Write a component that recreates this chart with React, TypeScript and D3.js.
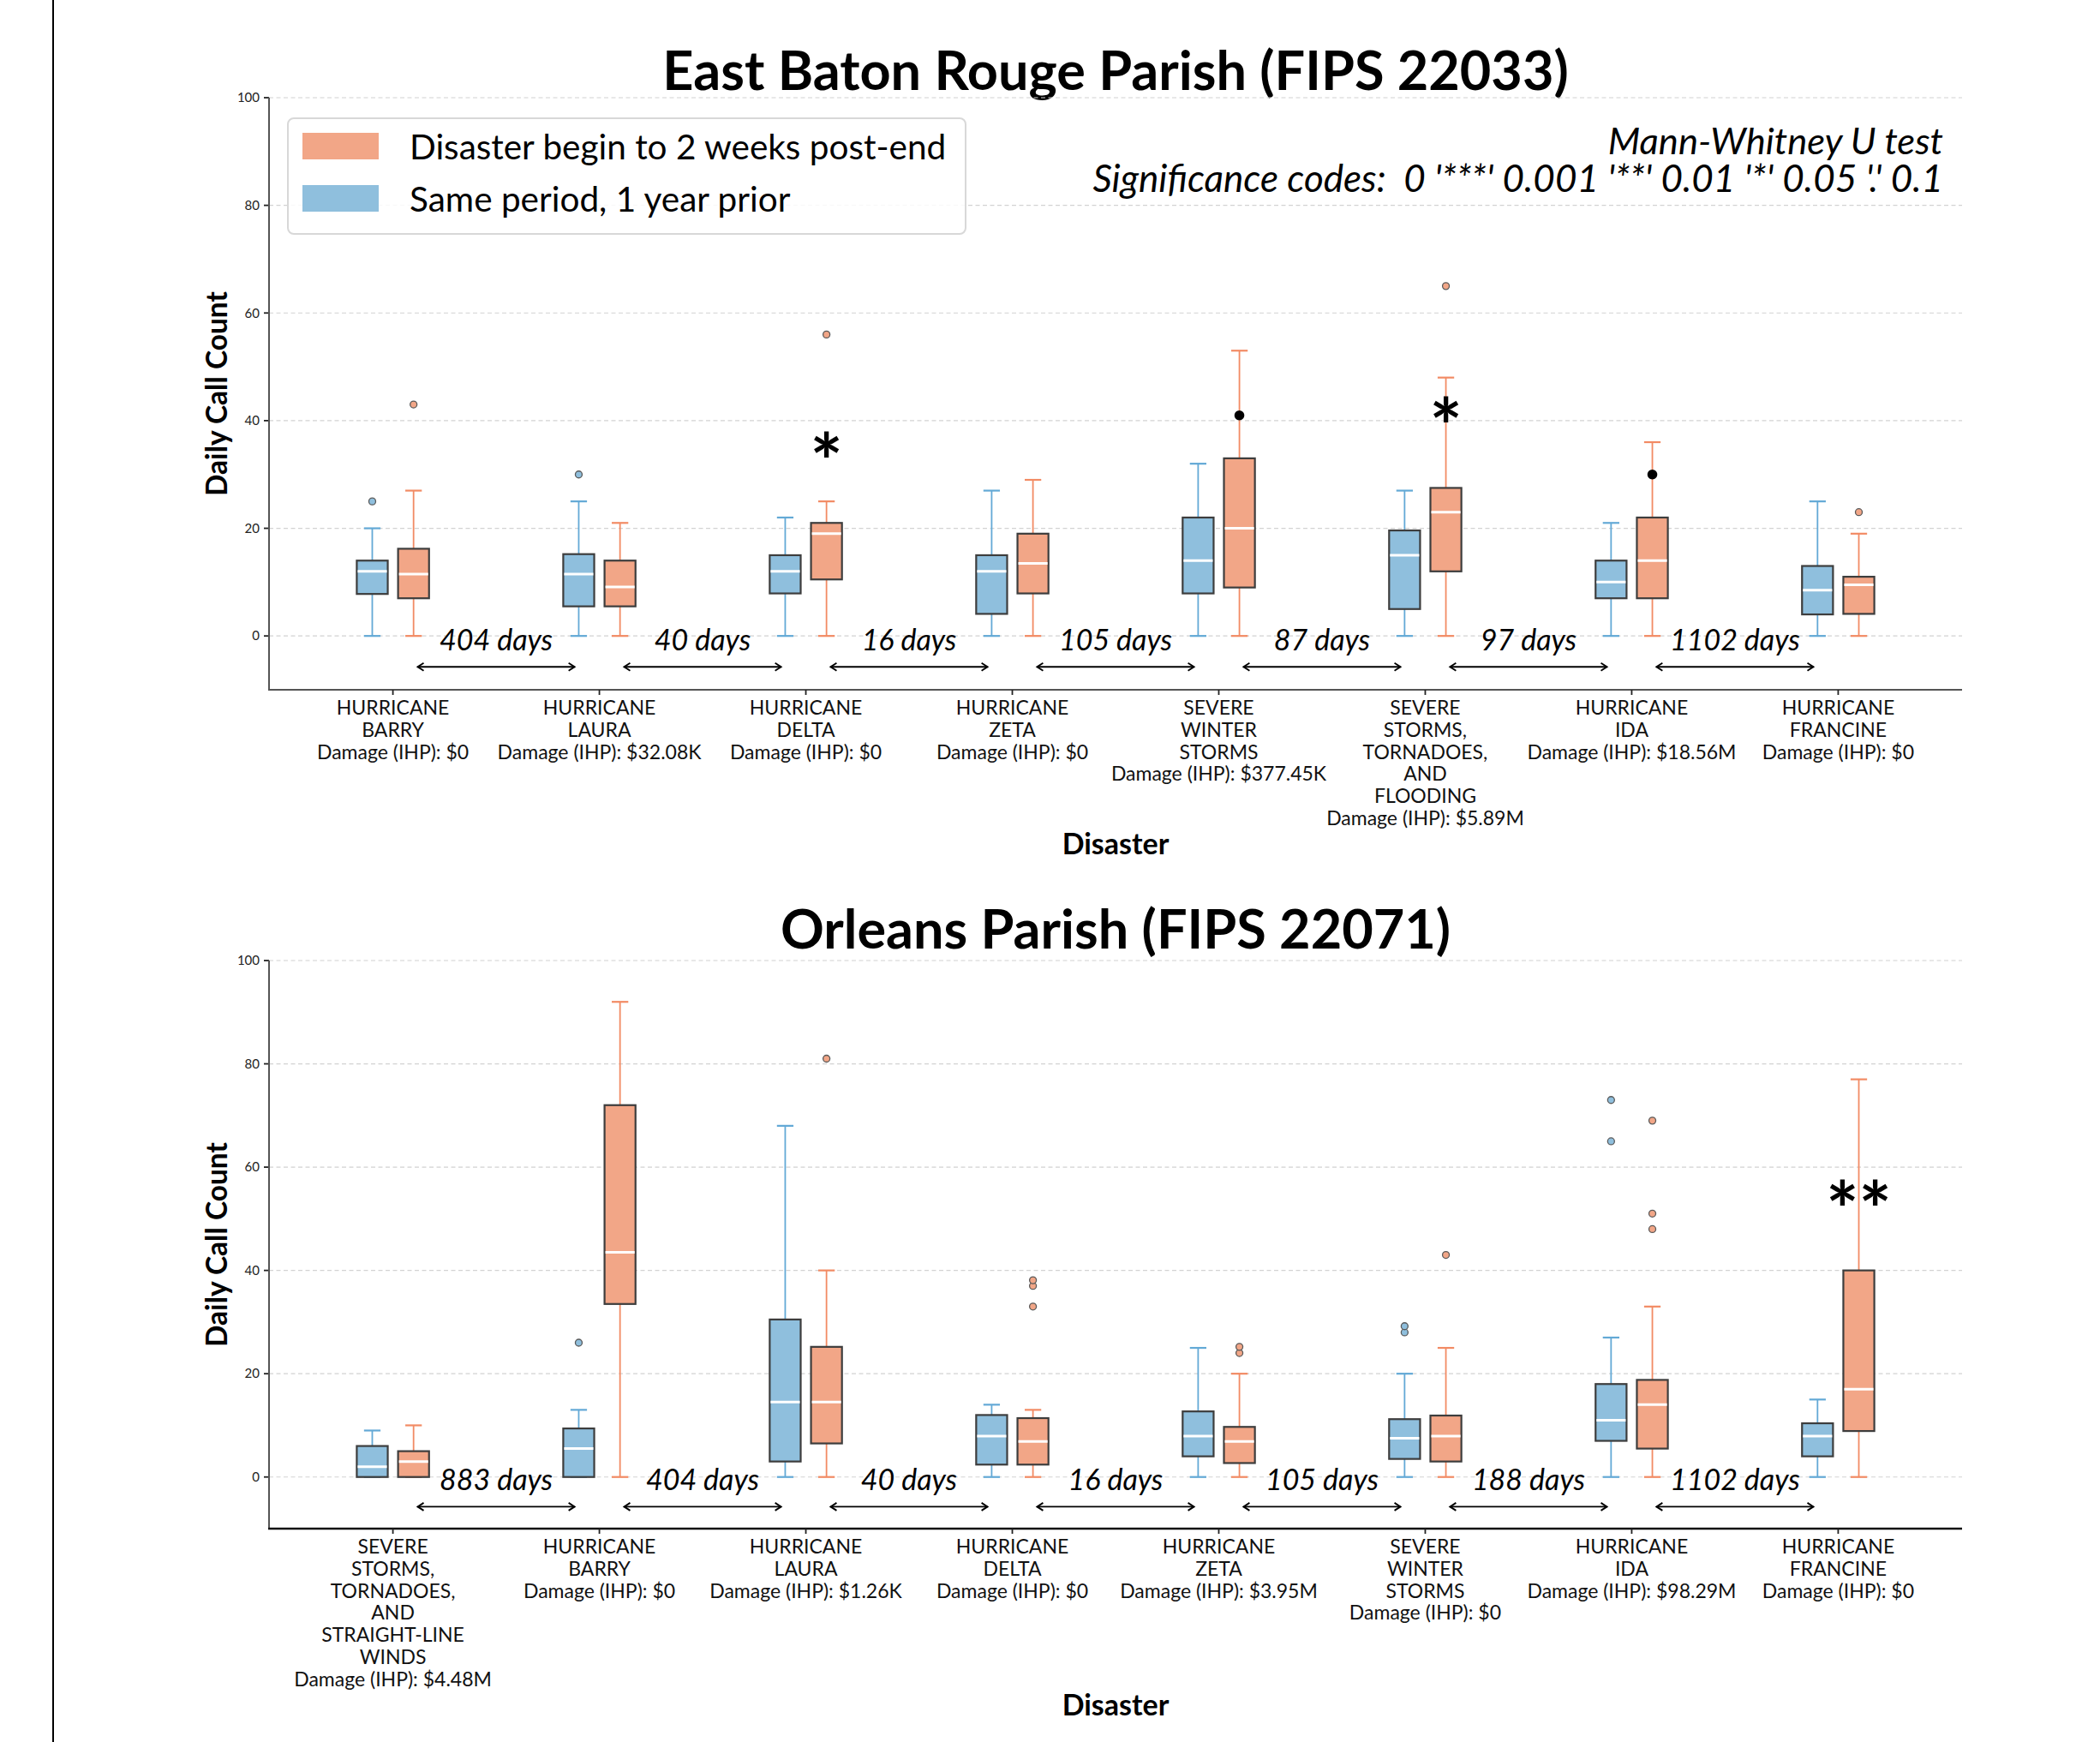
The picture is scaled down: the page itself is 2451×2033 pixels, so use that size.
import React from "react";
import * as d3 from "d3";

const W = 2451;
const H = 2033;
const FONT = "Lato, 'Open Sans', sans-serif";

const BLUE = "#8fbfdd";
const BLUE_LINE = "#63a9d6";
const ORANGE = "#f2a687";
const ORANGE_LINE = "#f28b64";

// ---- East Baton Rouge Parish ----
const ebrCategories = [
  ["HURRICANE", "BARRY", "Damage (IHP): $0"],
  ["HURRICANE", "LAURA", "Damage (IHP): $32.08K"],
  ["HURRICANE", "DELTA", "Damage (IHP): $0"],
  ["HURRICANE", "ZETA", "Damage (IHP): $0"],
  ["SEVERE", "WINTER", "STORMS", "Damage (IHP): $377.45K"],
  ["SEVERE", "STORMS,", "TORNADOES,", "AND", "FLOODING", "Damage (IHP): $5.89M"],
  ["HURRICANE", "IDA", "Damage (IHP): $18.56M"],
  ["HURRICANE", "FRANCINE", "Damage (IHP): $0"],
];
// [low whisker, q1, median, q3, high whisker]
const ebrPrior = [
  [0, 7.8, 12, 14, 20],
  [0, 5.5, 11.5, 15.2, 25],
  [0, 7.9, 12, 15, 22],
  [0, 4.1, 12, 15, 27],
  [0, 7.9, 14, 22, 32],
  [0, 5, 15, 19.6, 27],
  [0, 7, 10, 14, 21],
  [0, 4, 8.5, 13, 25],
];
const ebrPriorOutliers = [[25], [30], [], [], [], [], [], []];
const ebrDisaster = [
  [0, 7, 11.5, 16.2, 27],
  [0, 5.5, 9.1, 14, 21],
  [0, 10.5, 19, 21, 25],
  [0, 7.9, 13.5, 19, 29],
  [0, 9, 20, 33, 53],
  [0, 12, 23, 27.5, 48],
  [0, 7, 14, 22, 36],
  [0, 4.1, 9.5, 11, 19],
];
const ebrDisasterOutliers = [[43], [], [56], [], [], [65], [], [23]];
const ebrGapDays = [404, 40, 16, 105, 87, 97, 1102];
const ebrSignif = [
  { cat: 2, code: "*", y: 35 },
  { cat: 4, code: ".", y: 41 },
  { cat: 5, code: "*", y: 41.5 },
  { cat: 6, code: ".", y: 30 },
];

// ---- Orleans Parish ----
const orlCategories = [
  ["SEVERE", "STORMS,", "TORNADOES,", "AND", "STRAIGHT-LINE", "WINDS", "Damage (IHP): $4.48M"],
  ["HURRICANE", "BARRY", "Damage (IHP): $0"],
  ["HURRICANE", "LAURA", "Damage (IHP): $1.26K"],
  ["HURRICANE", "DELTA", "Damage (IHP): $0"],
  ["HURRICANE", "ZETA", "Damage (IHP): $3.95M"],
  ["SEVERE", "WINTER", "STORMS", "Damage (IHP): $0"],
  ["HURRICANE", "IDA", "Damage (IHP): $98.29M"],
  ["HURRICANE", "FRANCINE", "Damage (IHP): $0"],
];
const orlPrior = [
  [0, 0, 2, 6, 9],
  [0, 0, 5.5, 9.4, 13],
  [0, 3, 14.5, 30.5, 68],
  [0, 2.4, 7.9, 12, 14],
  [0, 4, 7.9, 12.7, 25],
  [0, 3.5, 7.5, 11.2, 20],
  [0, 7, 11, 18, 27],
  [0, 4, 7.9, 10.4, 15],
];
const orlPriorOutliers = [[], [26], [], [], [], [28, 29.2], [65, 73], []];
const orlDisaster = [
  [0, 0, 3, 5, 10],
  [0, 33.5, 43.5, 72, 92],
  [0, 6.5, 14.5, 25.2, 40],
  [0, 2.4, 6.9, 11.4, 13],
  [0, 2.7, 6.9, 9.7, 20],
  [0, 3, 7.9, 11.9, 25],
  [0, 5.5, 14, 18.8, 33],
  [0, 8.9, 17, 40, 77],
];
const orlDisasterOutliers = [[], [], [81], [33, 37, 38.1], [24, 25.2], [43], [48, 51, 69], []];
const orlGapDays = [883, 404, 40, 16, 105, 188, 1102];
const orlSignif = [{ cat: 7, code: "**", y: 54.4 }];

const legendLabels = ["Disaster begin to 2 weeks post-end", "Same period, 1 year prior"];

const x = d3.scaleLinear().domain([-0.6, 7.6]).range([314, 2290]);

function Boxes({ stats, outliers, off, fill, line, y }) {
  const hw = 0.075;
  const cw = 0.04;
  return (
    <g>
      {stats.map((s, i) => {
        const cx = x(i + off);
        const [lo, q1, med, q3, hi] = s;
        return (
          <g key={i}>
            <line x1={cx} x2={cx} y1={y(lo)} y2={y(q1)} stroke={line} strokeWidth={1.8} />
            <line x1={cx} x2={cx} y1={y(q3)} y2={y(hi)} stroke={line} strokeWidth={1.8} />
            <line x1={x(i + off - cw)} x2={x(i + off + cw)} y1={y(lo)} y2={y(lo)} stroke={line} strokeWidth={2.2} />
            <line x1={x(i + off - cw)} x2={x(i + off + cw)} y1={y(hi)} y2={y(hi)} stroke={line} strokeWidth={2.2} />
            <rect
              x={x(i + off - hw)}
              y={y(q3)}
              width={x(i + off + hw) - x(i + off - hw)}
              height={Math.max(0, y(q1) - y(q3))}
              fill={fill}
              stroke="#3d3d3d"
              strokeWidth={2.2}
            />
            <line x1={x(i + off - hw) + 1} x2={x(i + off + hw) - 1} y1={y(med)} y2={y(med)} stroke="#fff" strokeWidth={3} />
            {outliers[i].map((o, j) => (
              <circle key={j} cx={cx} cy={y(o)} r={4} fill={fill} stroke="#5a5a5a" strokeWidth={1.3} />
            ))}
          </g>
        );
      })}
    </g>
  );
}

function Arrow({ x1, x2, yy }) {
  const hl = 7;
  const hh = 4.5;
  return (
    <g stroke="#000" strokeWidth={1.9} fill="none">
      <line x1={x1} x2={x2} y1={yy} y2={yy} />
      <path d={`M${x1 + hl},${yy - hh}L${x1},${yy}L${x1 + hl},${yy + hh}`} />
      <path d={`M${x2 - hl},${yy - hh}L${x2},${yy}L${x2 - hl},${yy + hh}`} />
    </g>
  );
}

function Panel({ title, titleY, yBottom, yTop, categories, prior, priorOut, disaster, disasterOut, gaps, signif, spine, legend }) {
  const y = d3.scaleLinear().domain([-10, 100]).range([yBottom, yTop]);
  const ticks = y.ticks(5);
  const maxLines = d3.max(categories, (c) => c.length);
  const lineGap = 25.7;
  const firstBase = yBottom + 29.3;
  const xlabelBase = firstBase + (maxLines - 1) * lineGap + 34.5;
  const left = x.range()[0];
  const right = x.range()[1];
  return (
    <g fontFamily={FONT}>
      <text x={1302} y={titleY} textAnchor="middle" fontSize={63} fontWeight="bold">
        {title}
      </text>
      {ticks.map((t) => (
        <g key={t}>
          <line x1={left} x2={right} y1={y(t)} y2={y(t)} stroke="#d2d2d2" strokeWidth={1.2} strokeDasharray="5,3.5" />
          <line x1={left - 6} x2={left} y1={y(t)} y2={y(t)} stroke="#222" strokeWidth={1.8} />
          <text x={left - 11} y={y(t) + 5.3} textAnchor="end" fontSize={15} fill="#222">
            {t}
          </text>
        </g>
      ))}
      <line x1={left} x2={left} y1={y(100)} y2={y(-10)} stroke="#555" strokeWidth={2} />
      <line x1={left - 1} x2={right} y1={y(-10)} y2={y(-10)} stroke={spine.color} strokeWidth={spine.width} />
      {categories.map((lines, i) => (
        <g key={i}>
          <line x1={x(i)} x2={x(i)} y1={y(-10)} y2={y(-10) + 6} stroke="#222" strokeWidth={1.8} />
          <text textAnchor="middle" fontSize={23} fill="#111">
            {lines.map((l, k) => (
              <tspan key={k} x={x(i)} y={firstBase + k * lineGap}>
                {l}
              </tspan>
            ))}
          </text>
        </g>
      ))}
      <Boxes stats={prior} outliers={priorOut} off={-0.1} fill={BLUE} line={BLUE_LINE} y={y} />
      <Boxes stats={disaster} outliers={disasterOut} off={0.1} fill={ORANGE} line={ORANGE_LINE} y={y} />
      {gaps.map((d, i) => (
        <g key={i}>
          <text x={x(i + 0.5)} y={y(-2.6)} textAnchor="middle" fontSize={34} fontStyle="italic">
            {d} days
          </text>
          <Arrow x1={x(i + 0.12)} x2={x(i + 0.88)} yy={y(-5.75)} />
        </g>
      ))}
      {signif.map((s, i) => {
        const isDot = s.code === ".";
        const fs = isDot ? 76 : 90;
        const base = isDot ? y(s.y) + 0.07 * fs : y(s.y) + 0.55 * fs;
        return (
          <text key={i} x={x(s.cat + 0.1)} y={base} textAnchor="middle" fontSize={fs} fontWeight="bold">
            {s.code}
          </text>
        );
      })}
      <text
        transform={`translate(265,${(y(100) + y(-10)) / 2}) rotate(-90)`}
        textAnchor="middle"
        fontSize={33.5}
        fontWeight="bold"
      >
        Daily Call Count
      </text>
      <text x={1302} y={xlabelBase} textAnchor="middle" fontSize={34} fontWeight="bold">
        Disaster
      </text>
      {legend && (
        <g>
          <rect x={336} y={138} width={791} height={135} rx={7} fill="#fff" fillOpacity={0.85} stroke="#d8d8d8" strokeWidth={2} />
          <rect x={353} y={155} width={89} height={31} fill={ORANGE} />
          <rect x={353} y={216} width={89} height={31} fill={BLUE} />
          <text x={478} y={186} fontSize={40.5}>
            {legendLabels[0]}
          </text>
          <text x={478} y={247} fontSize={40.5}>
            {legendLabels[1]}
          </text>
          <text x={2268} y={180} textAnchor="end" fontSize={43.5} fontStyle="italic">
            Mann-Whitney U test
          </text>
          <text x={2268} y={224} textAnchor="end" fontSize={44} fontStyle="italic" style={{ whiteSpace: "pre" }}>
            {"Significance codes:  0 '***' 0.001 '**' 0.01 '*' 0.05 '.' 0.1"}
          </text>
        </g>
      )}
    </g>
  );
}

export default function App() {
  return (
    <svg
      width={W}
      height={H}
      viewBox={`0 0 ${W} ${H}`}
      style={{ position: "absolute", left: 0, top: 0, background: "#fff" }}
    >
      <rect width={W} height={H} fill="#fff" />
      <line x1={62} x2={62} y1={0} y2={H} stroke="#000" strokeWidth={2} />
      <Panel
        title="East Baton Rouge Parish (FIPS 22033)"
        titleY={105}
        yBottom={805}
        yTop={114}
        categories={ebrCategories}
        prior={ebrPrior}
        priorOut={ebrPriorOutliers}
        disaster={ebrDisaster}
        disasterOut={ebrDisasterOutliers}
        gaps={ebrGapDays}
        signif={ebrSignif}
        spine={{ color: "#555", width: 2 }}
        legend={true}
      />
      <Panel
        title="Orleans Parish (FIPS 22071)"
        titleY={1107}
        yBottom={1784}
        yTop={1121}
        categories={orlCategories}
        prior={orlPrior}
        priorOut={orlPriorOutliers}
        disaster={orlDisaster}
        disasterOut={orlDisasterOutliers}
        gaps={orlGapDays}
        signif={orlSignif}
        spine={{ color: "#111", width: 2.6 }}
        legend={false}
      />
    </svg>
  );
}
